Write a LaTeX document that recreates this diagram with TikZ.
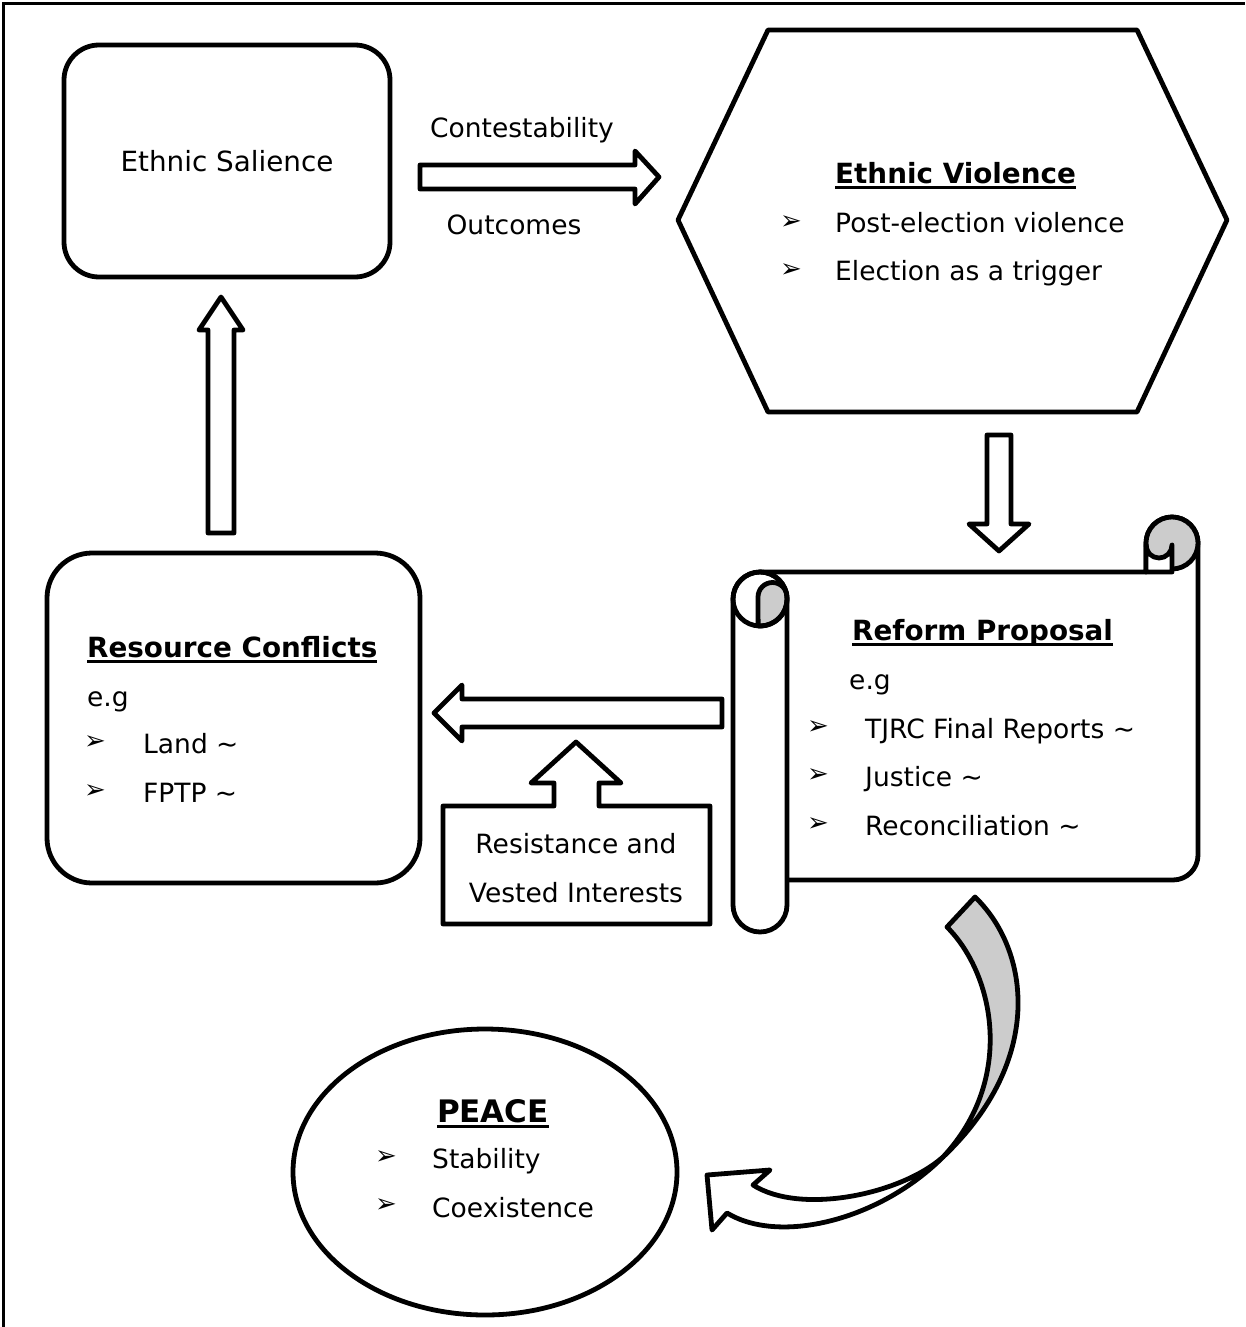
\documentclass[tikz,border=0pt]{standalone}
\usepackage{fontspec}
\setmainfont{DejaVu Sans}
\usetikzlibrary{shapes.geometric}
\newcommand{\hd}[1]{\setbox0\hbox{\bfseries #1}\leavevmode\rlap{\rule[-6pt]{\wd0}{3pt}}\box0}
\begin{document}
\begin{tikzpicture}[x=1pt,y=-1pt,
  shp/.style={draw,line width=4.8pt,fill=white,line join=round},
  txt/.style={font=\fontsize{26.5}{31}\selectfont,inner sep=0pt},
  hdt/.style={font=\fontsize{27.8}{33}\selectfont,inner sep=0pt},
  bul/.style={font=\fontsize{26}{30}\selectfont,inner sep=0pt},
  gry/.style={draw,line width=4.8pt,fill=black!20,line join=round}]
\useasboundingbox (0,0) rectangle (1245,1327);
\draw[line width=3pt] (3,1327) -- (3,4) -- (1245,4);

% Ethnic Salience
\node[shp,rounded corners=35pt,minimum width=326pt,minimum height=232pt,font=\fontsize{27.8}{33}\selectfont] (sal) at (227,161) {Ethnic Salience};

% Contestability arrow
\draw[shp] (420,165) -- (635,165) -- (635,151) -- (659,177) -- (635,204) -- (635,189) -- (420,189) -- cycle;
\node[txt,anchor=base] (lcon) at (522,137) {Contestability};
\node[txt,anchor=base] (lout) at (514,234) {Outcomes};

% Hexagon
\draw[shp] (768,30) -- (1137,30) -- (1227,220) -- (1137,412) -- (768,412) -- (678,220) -- cycle;
\node[hdt,anchor=base west] (evh) at (835,183) {\hd{Ethnic Violence}};
\node[bul] (evb1) at (791,223) {➢};
\node[txt,anchor=base west] (ev1) at (835,232) {Post-election violence};
\node[bul] (evb2) at (791,271) {➢};
\node[txt,anchor=base west] (ev2) at (835,280) {Election as a trigger};

% Down arrow
\draw[shp] (987,435) -- (1011,435) -- (1011,524) -- (1029,524) -- (999,551) -- (969,524) -- (987,524) -- cycle;

% Scroll body
\draw[shp] (760,572) -- (1146,572) -- (1146,543) arc[start angle=180,end angle=360,radius=26]
  -- (1198,855) arc[start angle=0,end angle=90,radius=25] -- (787,880) -- (760,880) -- cycle;
% top-right curl
\draw[gry] (1172,543) circle[radius=26];
\draw[shp] (1146,545) -- (1146,572) -- (1172,572) -- (1172,545) arc[start angle=0,end angle=180,radius=13] -- cycle;
% left roll
\draw[shp] (733,599) -- (733,905) arc[start angle=180,end angle=0,radius=27] -- (787,599) arc[start angle=0,end angle=-180,radius=27] -- cycle;
\draw[gry] (758,597) arc[start angle=180,end angle=360,radius=14.5] -- (787,599) arc[start angle=0,end angle=94,radius=27] -- cycle;
\draw[line width=4.8pt] (760,599) circle[radius=27];

\node[hdt,anchor=base west] (rph) at (852,640) {\hd{Reform Proposal}};
\node[txt,anchor=base west] (rpe) at (849,689) {e.g};
\node[bul] (rpb1) at (818,728) {➢};
\node[txt,anchor=base west] (rp1) at (865,738) {TJRC Final Reports \char"007E};
\node[bul] (rpb2) at (818,776) {➢};
\node[txt,anchor=base west] (rp2) at (865,786) {Justice \char"007E};
\node[bul] (rpb3) at (818,825) {➢};
\node[txt,anchor=base west] (rp3) at (865,835) {Reconciliation \char"007E};

% Resource conflicts
\node[shp,rounded corners=45pt,minimum width=373pt,minimum height=330pt] (res) at (233.5,718) {};
\node[hdt,anchor=base west] (rch) at (87,657) {\hd{Resource Conflicts}};
\node[txt,anchor=base west] (rce) at (87,706) {e.g};
\node[bul] (rcb1) at (95,743) {➢};
\node[txt,anchor=base west] (rc1) at (143,753) {Land \char"007E};
\node[bul] (rcb2) at (95,792) {➢};
\node[txt,anchor=base west] (rc2) at (143,802) {FPTP \char"007E};

% Up arrow to Ethnic Salience
\draw[shp] (208,533) -- (208,330) -- (199,330) -- (221,297) -- (243,330) -- (234,330) -- (234,533) -- cycle;

% Left arrow
\draw[shp] (722,699) -- (462,699) -- (462,685) -- (434,713) -- (462,741) -- (462,727) -- (722,727) -- cycle;

% Resistance callout
\draw[shp] (443,924) -- (443,806) -- (554,806) -- (554,783) -- (531,783) -- (576,742) -- (621,783) -- (599,783) -- (599,806) -- (710,806) -- (710,924) -- cycle;
\node[txt,anchor=base] (rv1) at (576,853) {Resistance and};
\node[txt,anchor=base] (rv2) at (576,902) {Vested Interests};

% PEACE
\node[shp,ellipse,minimum width=384pt,minimum height=286pt] (peace) at (485,1172) {};
\node[font=\fontsize{31}{36}\selectfont,inner sep=0pt,anchor=base] (ph) at (493,1122) {\hd{PEACE}};
\node[bul] (pb1) at (386,1158) {➢};
\node[txt,anchor=base west] (p1) at (432,1168) {Stability};
\node[bul] (pb2) at (386,1206) {➢};
\node[txt,anchor=base west] (p2) at (432,1217) {Coexistence};

% Curved arrow
\coordinate (cx) at (943,1157);
\draw[gry] (975,897) .. controls (1030,950) and (1045,1060) .. (cx)
  .. controls (1015,1080) and (995,975) .. (947,927) -- cycle;
\draw[shp] (cx) .. controls (880,1220) and (780,1245) .. (727,1213) -- (712,1230) -- (707,1175) -- (770,1170) -- (753,1185)
  .. controls (800,1215) and (900,1195) .. (cx) -- cycle;
\end{tikzpicture}
\end{document}
